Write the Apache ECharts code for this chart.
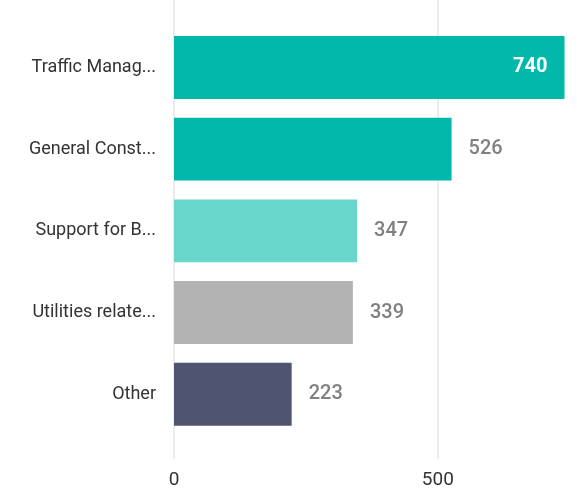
<!DOCTYPE html>
<html>
<head>
<meta charset="utf-8">
<script src="https://cdn.jsdelivr.net/npm/echarts@6/dist/echarts.min.js"></script>
<style>html,body{margin:0;padding:0;background:#fff;}#c{width:577px;height:490px;}</style>
</head>
<body>
<div id="c"></div>
<script>
var categories = ["Traffic Manag...", "General Const...", "Support for B...", "Utilities relate...", "Other"];
var values = [740, 526, 347, 339, 223];
var colors = ["#01b8aa", "#01b8aa", "#68d6ca", "#b3b3b3", "#4f5571"];
var xTicks = [0, 500];

var FONT = "Roboto";
var AXMAX = 758;
var chart = echarts.init(document.getElementById('c'), null, {renderer: 'canvas'});
var data = values.map(function (v, i) {
  var inside = i === 0;
  return {
    value: v,
    itemStyle: {color: colors[i]},
    label: {
      show: true,
      position: inside ? 'insideRight' : 'right',
      distance: 17,
      color: inside ? '#ffffff' : '#808080',
      fontWeight: inside ? 'bold' : 500,
      fontSize: 20,
      fontFamily: FONT
    }
  };
});
chart.setOption({
  animation: false,
  grid: [
    {left: 174, top: 26.6, width: 400, height: 408.5},
    {left: 174, top: 0, width: 400, height: 460}
  ],
  xAxis: [
    {gridIndex: 0, type: 'value', min: 0, max: AXMAX, interval: 500, show: false, splitLine: {show: false}},
    {gridIndex: 1, type: 'value', min: 0, max: AXMAX, interval: 500,
      axisLine: {show: false}, axisTick: {show: false},
      splitLine: {show: true, showMaxLine: false, lineStyle: {color: '#e6e6e6', width: 1.5}},
      axisLabel: {margin: 12, color: '#333333', fontSize: 19, fontFamily: FONT,
        formatter: function (v) { return xTicks.indexOf(v) >= 0 ? String(v) : ''; }}
    }
  ],
  yAxis: [
    {gridIndex: 0, type: 'category', data: categories, inverse: true,
      axisLine: {show: false}, axisTick: {show: false},
      axisLabel: {margin: 18, color: '#333333', fontSize: 18, fontFamily: FONT}},
    {gridIndex: 1, type: 'value', show: false}
  ],
  series: [{
    type: 'bar',
    xAxisIndex: 0, yAxisIndex: 0,
    data: data,
    barCategoryGap: '23%'
  }]
});
</script>
</body>
</html>
